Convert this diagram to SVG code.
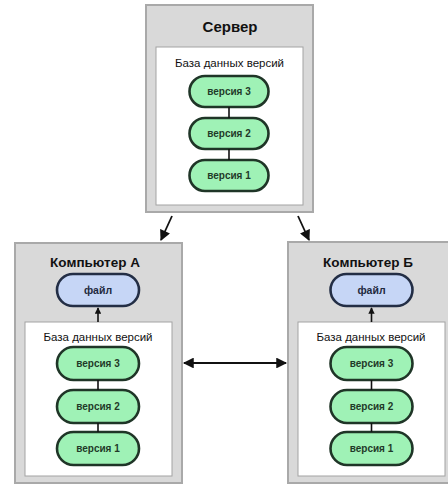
<svg xmlns="http://www.w3.org/2000/svg" width="448" height="484" viewBox="0 0 448 484">
<defs>
<style>
.outer{fill:#d9d9d9;stroke:#a9a9a9;stroke-width:2}
.inner{fill:#ffffff;stroke:#a3a3a3;stroke-width:1}
.ver{fill:#9ff2b6;stroke:#1f3527;stroke-width:2.6}
.file{fill:#c6d6f6;stroke:#232e45;stroke-width:2.6}
.title{font-family:"Liberation Sans",Arial,sans-serif;font-weight:bold;font-size:13.5px;fill:#111;text-anchor:middle}
.stitle{font-size:15px}
.db{font-family:"Liberation Sans",Arial,sans-serif;font-size:11.5px;fill:#111;text-anchor:middle}
.pt{font-family:"Liberation Sans",Arial,sans-serif;font-weight:bold;font-size:10px;fill:#1f3a29;text-anchor:middle}
.ft{font-family:"Liberation Sans",Arial,sans-serif;font-weight:bold;font-size:10.5px;fill:#1f2a40;text-anchor:middle}
.ln{stroke:#111;stroke-width:1.6;fill:none}
.ar{stroke:#111;stroke-width:1.8;fill:none}
</style>
<marker id="ah" viewBox="0 0 10 10" refX="9" refY="5" markerWidth="6.5" markerHeight="6" markerUnits="strokeWidth" orient="auto-start-reverse">
<path d="M0,0 L10,5 L0,10 z" fill="#111"/>
</marker>
<marker id="sh" viewBox="0 0 10 10" refX="9" refY="5" markerWidth="4" markerHeight="4" markerUnits="strokeWidth" orient="auto">
<path d="M0,0 L10,5 L0,10 z" fill="#111"/>
</marker>
</defs>
<rect width="448" height="484" fill="#ffffff"/>

<g id="server">
<rect class="outer" x="146" y="5" width="167" height="207"/>
<text class="title stitle" x="230" y="32">Сервер</text>
<rect class="inner" x="156" y="47" width="147" height="158"/>
<text class="db" x="229.5" y="67">База данных версий</text>
</g>
<g id="server-v3"><rect class="ver" x="189.5" y="76" width="79" height="31" rx="15.5"/><text class="pt" x="229" y="95">версия 3</text></g>
<g id="server-v2"><rect class="ver" x="189.5" y="118" width="79" height="31" rx="15.5"/><text class="pt" x="229" y="137">версия 2</text></g>
<g id="server-v1"><rect class="ver" x="189.5" y="160" width="79" height="31" rx="15.5"/><text class="pt" x="229" y="179">версия 1</text></g>

<g id="compA">
<rect class="outer" x="15" y="243" width="167" height="240"/>
<text class="title" x="95" y="267">Компьютер А</text>
<rect class="inner" x="25" y="322" width="147" height="154"/>
<text class="db" x="98" y="341">База данных версий</text>
</g>
<g id="compA-file"><rect class="file" x="57" y="274" width="82" height="32" rx="16"/><text class="ft" x="98" y="294">файл</text></g>
<g id="compA-v3"><rect class="ver" x="57" y="347" width="82" height="33" rx="16.5"/><text class="pt" x="98" y="367">версия 3</text></g>
<g id="compA-v2"><rect class="ver" x="57" y="390" width="82" height="33" rx="16.5"/><text class="pt" x="98" y="410">версия 2</text></g>
<g id="compA-v1"><rect class="ver" x="57" y="432" width="82" height="33" rx="16.5"/><text class="pt" x="98" y="452">версия 1</text></g>

<g id="compB">
<rect class="outer" x="288" y="242" width="167" height="241"/>
<text class="title" x="368" y="267">Компьютер Б</text>
<rect class="inner" x="298" y="322" width="147" height="154"/>
<text class="db" x="371" y="341">База данных версий</text>
</g>
<g id="compB-file"><rect class="file" x="330.5" y="274" width="82" height="32" rx="16"/><text class="ft" x="371.5" y="294">файл</text></g>
<g id="compB-v3"><rect class="ver" x="330.5" y="347" width="82" height="33" rx="16.5"/><text class="pt" x="371.5" y="367">версия 3</text></g>
<g id="compB-v2"><rect class="ver" x="330.5" y="390" width="82" height="33" rx="16.5"/><text class="pt" x="371.5" y="410">версия 2</text></g>
<g id="compB-v1"><rect class="ver" x="330.5" y="432" width="82" height="33" rx="16.5"/><text class="pt" x="371.5" y="452">версия 1</text></g>

<g id="connectors">
<line class="ln" x1="229" y1="107" x2="229" y2="118"/>
<line class="ln" x1="229" y1="149" x2="229" y2="160"/>
<line class="ln" x1="98" y1="380" x2="98" y2="390"/>
<line class="ln" x1="98" y1="423" x2="98" y2="432"/>
<line class="ln" x1="371.5" y1="380" x2="371.5" y2="390"/>
<line class="ln" x1="371.5" y1="423" x2="371.5" y2="432"/>
<line class="ln" x1="98" y1="322" x2="98" y2="308" marker-end="url(#sh)"/>
<line class="ln" x1="371.5" y1="322" x2="371.5" y2="308" marker-end="url(#sh)"/>
<line class="ar" x1="172" y1="216" x2="161" y2="240" marker-end="url(#ah)"/>
<line class="ar" x1="298" y1="216" x2="309" y2="240" marker-end="url(#ah)"/>
<line class="ar" x1="184" y1="363" x2="286" y2="363" marker-start="url(#ah)" marker-end="url(#ah)"/>
</g>
</svg>
